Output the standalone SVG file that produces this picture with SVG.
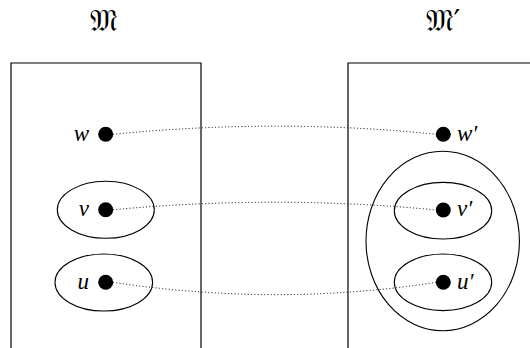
<svg xmlns="http://www.w3.org/2000/svg" width="530" height="348" viewBox="0 0 530 348">
<style>
.frame{fill:none;stroke:#000;stroke-width:1.2}
.ell{fill:none;stroke:#000;stroke-width:1.1}
.dot{fill:#000}
.conn{fill:none;stroke:#000;stroke-width:1;stroke-dasharray:1 2.3}
.lbl{font-family:"Liberation Serif","DejaVu Serif",serif;font-style:italic;font-size:23px;fill:#000}
.title{font-family:"DejaVu Sans","Noto Sans","Liberation Serif",serif;font-size:30px;fill:#000}
</style>
<rect width="530" height="348" fill="#fff"/>
<g id="structure-M">
<path class="frame" d="M11,348 V63 H201 V348"/>
<text class="title" x="104" y="31" text-anchor="middle">𝔐</text>
</g>
<g id="structure-M-prime">
<path class="frame" d="M348,348 V63 H535"/>
<text class="title" x="443" y="31" text-anchor="middle">𝔐′</text>
</g>
<g id="connectors">
<path class="conn" d="M113,134.3 Q278,118 436,134.3"/>
<path class="conn" d="M113,209.7 Q278,194.6 436,210"/>
<path class="conn" d="M113,282.3 Q278,307 436,282.3"/>
</g>
<g id="node-w">
<circle class="dot" cx="105.7" cy="134.3" r="7.5"/>
<text class="lbl" x="89" y="140.5" text-anchor="end">w</text>
</g>
<g id="node-v">
<ellipse class="ell" cx="105.8" cy="209.8" rx="48.5" ry="28.5"/>
<circle class="dot" cx="105.7" cy="209.7" r="7.5"/>
<text class="lbl" x="89" y="216" text-anchor="end">v</text>
</g>
<g id="node-u">
<ellipse class="ell" cx="103.8" cy="282.5" rx="48.8" ry="28.5"/>
<circle class="dot" cx="105.7" cy="282.3" r="7.5"/>
<text class="lbl" x="89" y="288.5" text-anchor="end">u</text>
</g>
<g id="node-w-prime">
<circle class="dot" cx="443.3" cy="134.3" r="7.5"/>
<text class="lbl" x="457" y="140.5">w′</text>
</g>
<g id="group-vu-prime">
<ellipse class="ell" cx="442.7" cy="241" rx="76.7" ry="89.7"/>
</g>
<g id="node-v-prime">
<ellipse class="ell" cx="443" cy="210.7" rx="48.7" ry="28.3"/>
<circle class="dot" cx="443.3" cy="210" r="7.5"/>
<text class="lbl" x="457" y="216">v′</text>
</g>
<g id="node-u-prime">
<ellipse class="ell" cx="443" cy="282.3" rx="48.7" ry="28.3"/>
<circle class="dot" cx="443.3" cy="282.3" r="7.5"/>
<text class="lbl" x="457" y="288.5">u′</text>
</g>
</svg>
